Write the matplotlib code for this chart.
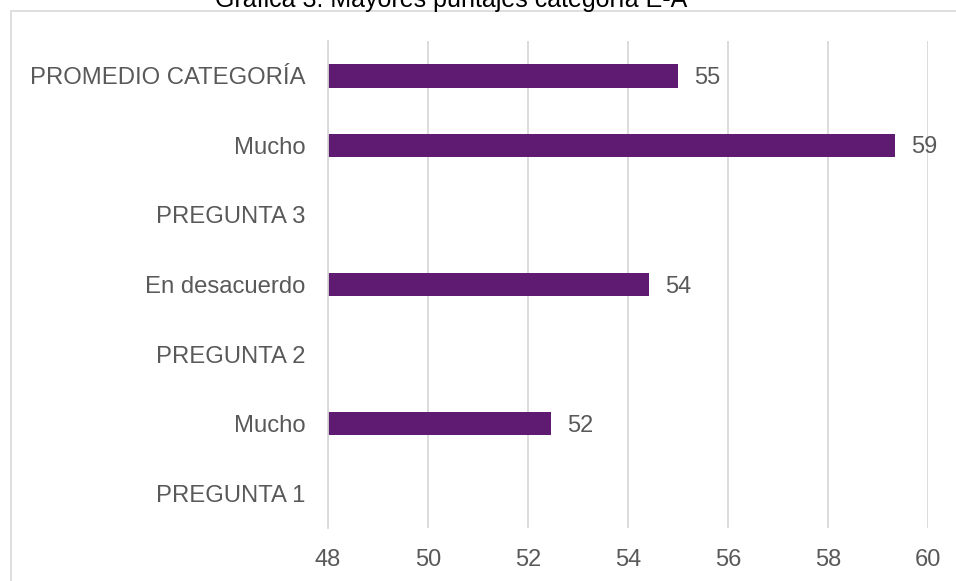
import matplotlib

matplotlib.use("Agg")
import matplotlib.pyplot as plt
from matplotlib.patches import Rectangle

# categories listed bottom to top, as they are drawn on the y axis
categories = [
    "PREGUNTA 1",
    "Mucho",
    "PREGUNTA 2",
    "En desacuerdo",
    "PREGUNTA 3",
    "Mucho",
    "PROMEDIO CATEGORÍA",
]
scores = [None, 52.46, None, 54.42, None, 59.34, 55.0]
x_ticks = [48, 50, 52, 54, 56, 58, 60]
title = "Gráfica 3. Mayores puntajes categoría E-A"

bar_color = "#5F1A72"
text_color = "#595959"
grid_color = "#D9D9D9"

plt.rcParams["font.family"] = ["Liberation Sans", "DejaVu Sans"]

W, H = 956, 581
fig = plt.figure(figsize=(W / 100, H / 100), dpi=100)
ax = fig.add_axes([328 / W, 1 - 528 / H, 600 / W, (528 - 41) / H])

# outer chart frame, running off the right and bottom edges
fig.patches.append(
    Rectangle((11 / W, -0.1), 1.2, 1 - 11 / H + 0.1, transform=fig.transFigure,
              fill=False, edgecolor="#D9D9D9", linewidth=1.2)
)

x_min = x_ticks[0]
for i, v in enumerate(scores):
    if v is None:
        continue
    ax.barh(i, v - x_min, left=x_min, height=0.34, color=bar_color)
    ax.text(v + 0.33, i - 0.03, f"{v:.0f}", va="center", ha="left",
            fontsize=17, color=text_color)

ax.set_xlim(x_ticks[0], x_ticks[-1])
ax.set_ylim(-0.5, len(categories) - 0.5)
ax.set_xticks(x_ticks)
ax.set_xticklabels([str(t) for t in x_ticks], fontsize=17, color=text_color)
ax.set_yticks(range(len(categories)))
ax.set_yticklabels(categories, fontsize=17.2, color=text_color)
ax.tick_params(axis="both", length=0)
ax.tick_params(axis="x", pad=15)
ax.tick_params(axis="y", pad=16)

ax.grid(axis="x", color=grid_color, linewidth=1.3)
ax.set_axisbelow(True)
for side in ("top", "right", "bottom"):
    ax.spines[side].set_visible(False)
ax.spines["left"].set_color(grid_color)
ax.spines["left"].set_linewidth(1.3)

fig.text(451 / W, 1 - 6.5 / H, title, ha="center", va="baseline",
         fontsize=18, color="black")

fig.savefig("out.png", dpi=100)
